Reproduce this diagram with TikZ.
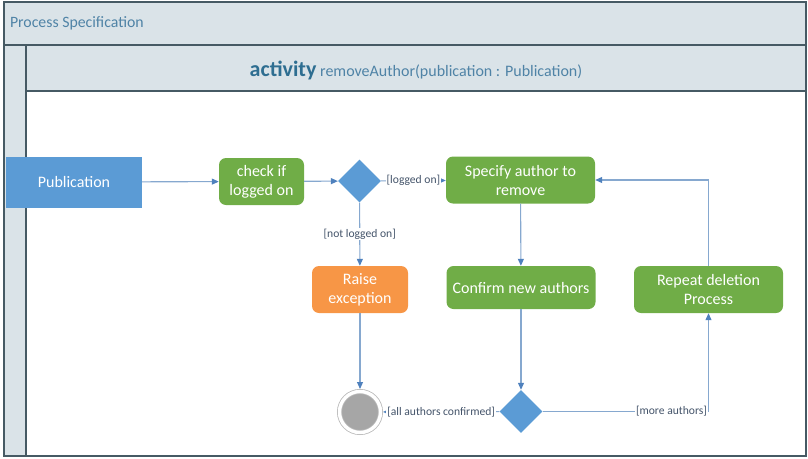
\documentclass[tikz,border=0pt]{standalone}
\usepackage{fontspec}
\setmainfont{Carlito}
\usetikzlibrary{shapes.geometric,arrows.meta}

\definecolor{headfill}{HTML}{DAE3E8}
\definecolor{framecol}{HTML}{465A64}
\definecolor{titlecol}{HTML}{4F83A6}
\definecolor{actcol}{HTML}{2E6E91}
\definecolor{boxblue}{HTML}{5B9BD5}
\definecolor{boxgreen}{HTML}{70AD47}
\definecolor{boxorange}{HTML}{F79646}
\definecolor{endgray}{HTML}{A6A6A6}
\definecolor{linecol}{HTML}{86A8CF}
\definecolor{tipcol}{HTML}{4F81BD}
\definecolor{guardcol}{HTML}{44546A}

\tikzset{
  flow/.style={draw=linecol, line width=1.1pt, -{Triangle[length=7pt,width=6pt,color=tipcol]}},
  guard/.style={fill=white, text=guardcol, inner sep=1pt, font=\fontsize{11.6}{13}\selectfont}
}

\begin{document}
\begin{tikzpicture}[x=1pt,y=-1pt]

      \useasboundingbox (0,0) rectangle (808,458);

      % frame and headers
      \fill[headfill] (4,2) rectangle (806,45);
      \fill[headfill] (4,45) rectangle (26,456);
      \fill[headfill] (26,45) rectangle (806,91);
      \draw[framecol, line width=1.2pt] (4,2) rectangle (806,456);
      \draw[framecol, line width=1.2pt] (4,45) -- (806,45);
      \draw[framecol, line width=1.2pt] (26,45) -- (26,456);
      \draw[framecol, line width=1.2pt] (26,91) -- (806,91);

      \node[anchor=west, text=titlecol, font=\fontsize{15.8}{18}\selectfont] (title) at (6.5,23) {Process Specification};
      \node[text=titlecol, font=\fontsize{16}{19}\selectfont] (activity) at (416,70)
        {{\bfseries\color{actcol}\fontsize{22}{26}\selectfont activity} removeAuthor(publication : Publication)};

      \begin{scope}[every node/.style={rounded corners=7pt, text=white, align=center, inner sep=2pt, font=\fontsize{16}{19}\selectfont}]
        \node[fill=boxblue, sharp corners, minimum width=136, minimum height=51] (pub) at (74,182) {Publication};
        \node[fill=boxgreen, minimum width=85, minimum height=47] (check) at (261.5,181.5) {check if\\logged on};
        \node[fill=boxblue, sharp corners, diamond, aspect=1, minimum size=43, inner sep=0pt] (dec1) at (359.5,181) {};
        \node[fill=boxgreen, minimum width=149, minimum height=47] (spec) at (520.5,180) {Specify author to\\remove};
        \node[fill=boxorange, minimum width=96, minimum height=47] (raise) at (360,289.5) {Raise\\exception};
        \node[fill=boxgreen, minimum width=149, minimum height=43] (confirm) at (521,287.5) {Confirm new authors};
        \node[fill=boxgreen, minimum width=149, minimum height=47] (repeat) at (708.5,289.5) {Repeat deletion\\Process};
        \node[fill=boxblue, sharp corners, diamond, aspect=1, minimum size=43, inner sep=0pt] (dec2) at (521,411.5) {};
        \node[circle, fill=endgray, draw=endgray!80, double=white, double distance=3.4pt, line width=0.8pt,
              minimum size=41, inner sep=0pt, outer sep=2.5pt] (final) at (360,412) {};
      \end{scope}

      \begin{scope}[every node/.style={guard}]

        \begin{scope}[every edge/.style={flow}]
          \path (pub) edge (check);
          \path (check) edge (dec1);
          \path (dec1) edge node {[logged on]} (spec);
          \path (dec1) edge node {[not logged on]} (raise);
          \path (spec) edge (confirm);
          \path (confirm) edge (dec2);
          \path (raise) edge (final);
          \path (dec2) edge node {[all authors confirmed]} (final);
        \end{scope}

        \draw[flow] (dec2) -| node[pos=0.5, anchor=east] {[more authors]} (repeat);
        \draw[flow] (repeat) |- (spec);

      \end{scope}

    \end{tikzpicture}
\end{document}
